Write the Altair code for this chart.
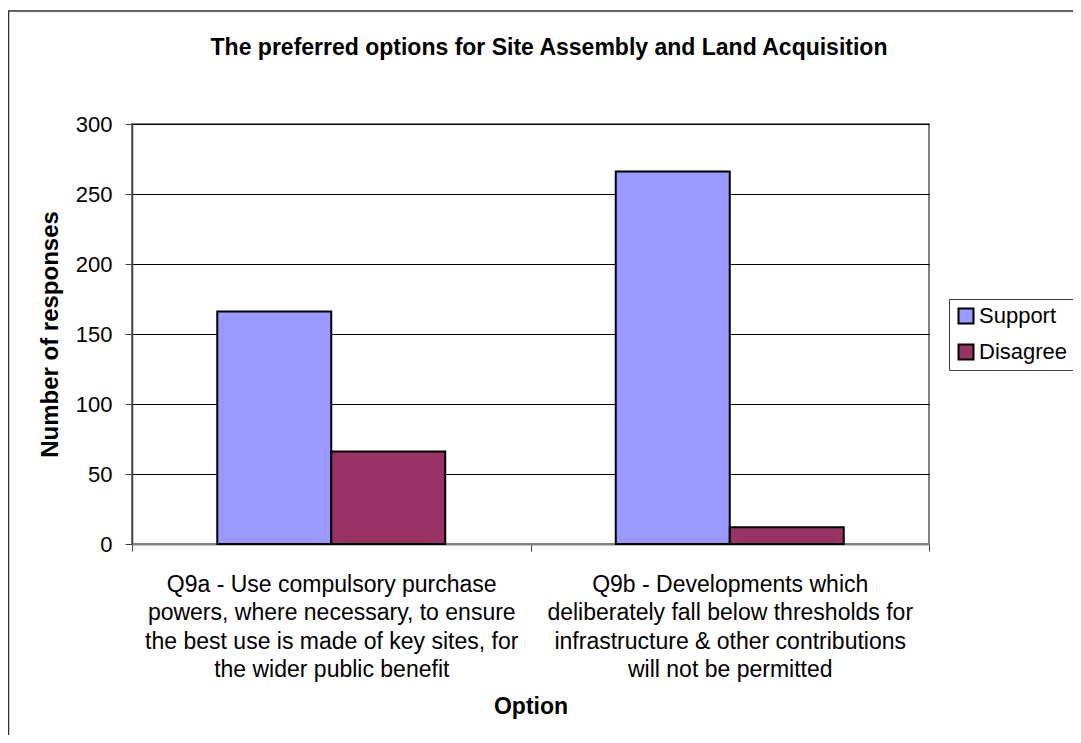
import altair as alt
import pandas as pd

# ---- data ----
options = [
    "Q9a - Use compulsory purchase|powers, where necessary, to ensure|the best use is made of key sites, for|the wider public benefit",
    "Q9b - Developments which|deliberately fall below thresholds for|infrastructure & other contributions|will not be permitted",
]
series = ["Support", "Disagree"]
support = [166, 266]
disagree = [66, 12]
y_ticks = [0, 50, 100, 150, 200, 250, 300]
colors = ["#9999FF", "#993366"]

rows = []
for i, opt in enumerate(options):
    rows.append({"Option": opt, "Series": "Support", "Responses": support[i]})
    rows.append({"Option": opt, "Series": "Disagree", "Responses": disagree[i]})
df = pd.DataFrame(rows)

FONT = "Liberation Sans"
W, H = 797, 420

bars = alt.Chart(df).mark_bar(stroke="black", strokeWidth=2).encode(
    x=alt.X(
        "Option:N",
        sort=options,
        scale=alt.Scale(paddingInner=0, paddingOuter=0),
        axis=alt.Axis(
            title="Option",
            labelExpr="split(datum.label, '|')",
            labelAngle=0,
            labelLimit=0,
            labelFontSize=23,
            labelLineHeight=28.5,
            labelBaseline="top",
            labelPadding=22,
            labelColor="black",
            tickBand="extent",
            tickSize=7,
            tickColor="#404040",
            domainColor="#808080",
            domainWidth=2,
            titleFontSize=23,
            titleFontWeight="bold",
            titleX=W / 2,
            titleY=162,
            titleBaseline="middle",
            titleAlign="center",
            titleColor="black",
        ),
    ),
    xOffset=alt.XOffset("Series:N", sort=series,
                        scale=alt.Scale(paddingInner=0, paddingOuter=0.748)),
    y=alt.Y(
        "Responses:Q",
        scale=alt.Scale(domain=[0, 300], nice=False),
        axis=alt.Axis(
            title="Number of responses",
            values=y_ticks,
            grid=True,
            gridColor="black",
            gridWidth=1,
            labelFontSize=22,
            labelPadding=13,
            labelColor="black",
            tickSize=7,
            tickColor="#404040",
            domainColor="#404040",
            domainWidth=1.5,
            titleFontSize=24,
            titleFontWeight="bold",
            titleAngle=270,
            titleX=-82,
            titleY=H / 2,
            titleAlign="center",
            titleBaseline="middle",
            titleColor="black",
        ),
    ),
    color=alt.Color(
        "Series:N",
        sort=series,
        scale=alt.Scale(domain=series, range=colors),
        legend=alt.Legend(
            title=None,
            orient="none",
            legendX=817,
            legendY=175,
            symbolType="square",
            symbolSize=225,
            symbolStrokeColor="black",
            symbolStrokeWidth=2,
            labelFontSize=22,
            labelOffset=2,
            labelColor="black",
            padding=6,
            rowPadding=12,
            strokeColor="#404040",
            fillColor="white",
        ),
    ),
)

frame = alt.Chart(pd.DataFrame({"k": [0]})).mark_rect(
    fill=None, stroke="#303030", strokeWidth=1.5
).encode(
    x=alt.value(-123.5), x2=alt.value(1100),
    y=alt.value(-113), y2=alt.value(800),
)

chart = alt.layer(frame, bars).properties(
    width=W,
    height=H,
    padding={"left": 124, "top": 116, "right": 144, "bottom": 191},
    autosize=alt.AutoSizeParams(type="none"),
    background="white",
    title=alt.TitleParams(
        text="The preferred options for Site Assembly and Land Acquisition",
        fontSize=23,
        fontWeight="bold",
        font=FONT,
        anchor="middle",
        frame="group",
        dx=18.5,
        offset=0,
        dy=68,
        baseline="alphabetic",
        color="black",
    ),
).configure(
    font=FONT,
).configure_view(
    stroke="#808080", strokeWidth=2
).configure_axis(
    labelFont=FONT, titleFont=FONT
).configure_legend(
    labelFont=FONT
)

chart.save("out.html", embed_options={"renderer": "svg", "actions": False})
